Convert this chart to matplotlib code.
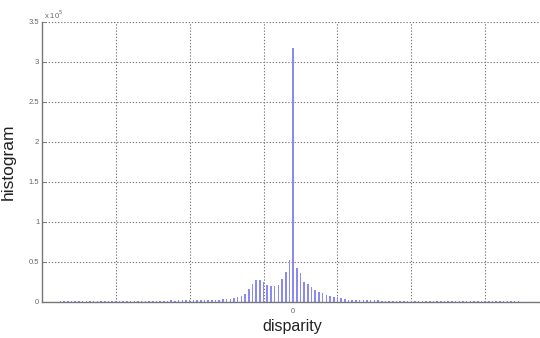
import matplotlib
matplotlib.use("Agg")
import matplotlib.pyplot as plt
import numpy as np

# disparity bins (relative to zero) and histogram counts (in thousands)
left_tail = [1.0, 1.2, 1.0, 1.1, 1.2, 1.0, 1.1, 1.2, 1.3, 1.2, 1.1, 1.3, 1.4, 1.3, 1.2, 1.3,
             1.4, 1.5, 1.4, 1.3, 1.5, 1.6, 1.5, 1.6, 1.7, 1.6, 1.7, 1.8, 1.7, 1.8, 1.9, 1.8,
             1.9, 2.0, 2.0, 2.1, 2.1, 2.2, 2.2, 2.3, 2.4, 2.5, 2.7, 2.9, 3.2, 3.6, 4.2]
center = [5.0, 6.3, 7.6, 9.6, 15.8, 22.5, 27.5, 27.0, 25.5, 21.0, 19.5, 20.5, 21.0, 28.5, 38.0, 52.0,
          317.0,
          43.0, 36.0, 25.5, 22.5, 18.5, 15.0, 13.0, 11.0, 9.0, 7.5, 6.5, 6.0, 5.0]
right_tail = [3.8, 3.0, 2.6, 2.3, 2.2, 2.1, 2.0, 2.0, 1.9, 1.9, 1.8, 1.8, 1.7, 1.7, 1.6, 1.6,
              1.5, 1.5, 1.4, 1.5, 1.4, 1.3, 1.4, 1.3, 1.2, 1.3, 1.2, 1.2, 1.1, 1.2, 1.1, 1.1,
              1.0, 1.1, 1.0, 1.0, 0.9, 1.0, 0.9, 0.9, 0.8, 0.9, 0.8, 0.8, 0.7, 0.8, 0.7, 0.7, 0.6, 0.6]
counts_k = left_tail + center + right_tail
disparity = list(range(-63, -63 + len(counts_k)))
counts = [c * 1000 for c in counts_k]

ytick_vals = [0, 0.5e5, 1e5, 1.5e5, 2e5, 2.5e5, 3e5, 3.5e5]
ytick_labels = ["0", "0.5", "1", "1.5", "2", "2.5", "3", "3.5"]
xgrid = [-48, -28, -8, 12, 32, 52]

fig = plt.figure(figsize=(5.4, 3.38), dpi=100)
ax = fig.add_axes([42/540, 36/338, 517/540, 280/338])

ax.bar(disparity, counts, width=0.42, color="#8a8af0", linewidth=0)

ax.set_xlim(-68, 72)
ax.set_ylim(0, 3.5e5)
ax.set_yticks(ytick_vals)
ax.set_yticklabels(ytick_labels)
ax.set_xticks(xgrid)
ax.set_xticklabels([""] * len(xgrid))
ax.set_xticks([0], minor=True)
ax.set_xticklabels(["0"], minor=True)

ax.grid(True, which="major", color="#7a7a7a", linestyle=(0, (1.2, 1.6)), linewidth=0.8)
ax.set_axisbelow(True)
ax.tick_params(axis="both", which="both", direction="in", length=3, width=0.6,
               colors="#777777", labelsize=5.5, labelcolor="#666666", pad=2)
ax.tick_params(axis="x", which="minor", length=0, pad=4)
ax.tick_params(axis="x", which="major", length=0)

for side in ["top", "right"]:
    ax.spines[side].set_visible(False)
for side in ["left", "bottom"]:
    ax.spines[side].set_color("#777777")
    ax.spines[side].set_linewidth(1.0)

fig.text(44/540, 1 - 15/338, r"x 10$^5$", fontsize=5.5, color="#666666",
         ha="left", va="center", family="Liberation Sans")
fig.text(8/540, 1 - 162/338, "histogram", rotation=90, fontsize=12.5,
         ha="center", va="center", family="Liberation Sans", color="#222222")
fig.text(292/540, 1 - 327/338, "disparity", fontsize=11.5,
         ha="center", va="center", family="Liberation Sans", color="#222222")

for lab in ax.get_xticklabels(minor=True) + ax.get_yticklabels():
    lab.set_family("Liberation Sans")

fig.savefig("out.png", dpi=100)
